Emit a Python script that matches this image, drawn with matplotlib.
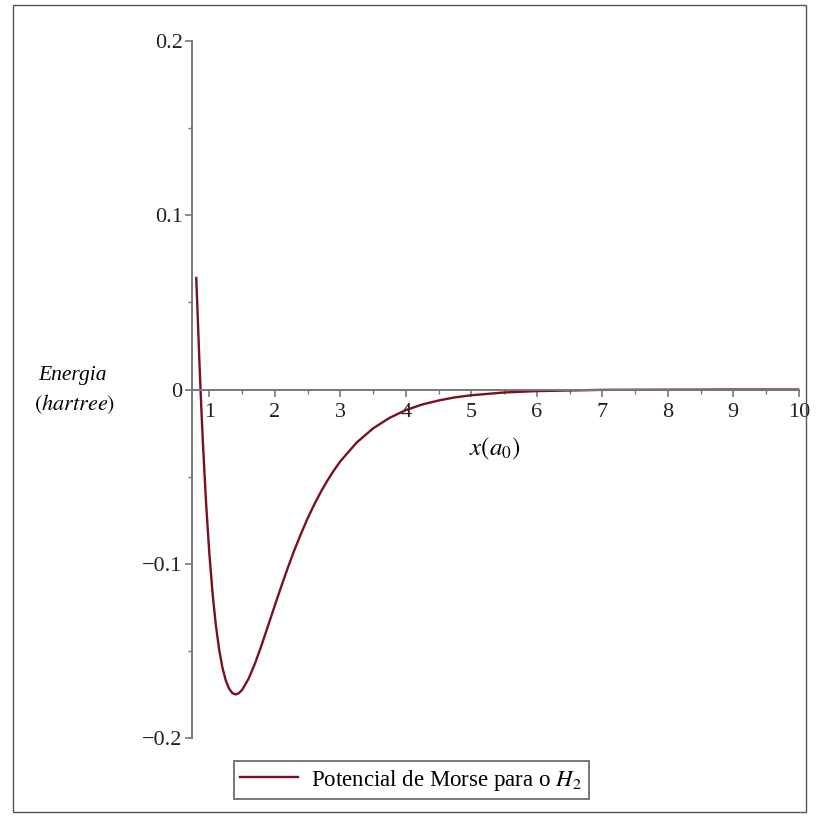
import matplotlib
matplotlib.use("Agg")
import matplotlib.pyplot as plt
from matplotlib.ticker import MultipleLocator
from matplotlib.patches import Rectangle

plt.rcParams['font.family'] = ['Liberation Serif', 'DejaVu Serif']
plt.rcParams['mathtext.fontset'] = 'stix'

# valores (x em a0, energia em hartree)
x = [0.80, 0.825, 0.85, 0.875, 0.90, 0.95, 1.00, 1.05, 1.10, 1.15, 1.20,
     1.25, 1.30, 1.35, 1.40, 1.45, 1.50, 1.60, 1.70, 1.80, 1.90, 2.00,
     2.10, 2.20, 2.30, 2.40, 2.50, 2.60, 2.70, 2.80, 2.90, 3.00, 3.25,
     3.50, 3.75, 4.00, 4.25, 4.50, 4.75, 5.00, 5.50, 6.00, 7.00, 8.00,
     9.00, 10.0]
energia = [0.0640, 0.0394, 0.0141, -0.0087, -0.0295, -0.0653, -0.0942,
           -0.1174, -0.1355, -0.1494, -0.1597, -0.1669, -0.1716, -0.1742,
           -0.1750, -0.1743, -0.1724, -0.1659, -0.1569, -0.1464, -0.1352,
           -0.1239, -0.1128, -0.1021, -0.0920, -0.0827, -0.0740, -0.0661,
           -0.0589, -0.0524, -0.0465, -0.0412, -0.0304, -0.0223, -0.0163,
           -0.0118, -0.0086, -0.0063, -0.0045, -0.0033, -0.0017, -0.0009,
           -0.0002, -0.0001, 0.0, 0.0]

fig = plt.figure(figsize=(8.16, 8.19), dpi=100)
ax = fig.add_axes([0.2357, 0.0989, 0.7432, 0.851])

ax.plot(x, energia, color='#7a0f22', lw=1.7, label='Potencial de Morse para o $H_2$')
ax.set_xlim(0.74, 10)
ax.set_ylim(-0.2, 0.2)

cinza = '#777777'
ax.spines['top'].set_visible(False)
ax.spines['right'].set_visible(False)
ax.spines['bottom'].set_position(('data', 0))
for s in ('left', 'bottom'):
    ax.spines[s].set_color(cinza)
    ax.spines[s].set_linewidth(1.4)

ax.xaxis.set_major_locator(MultipleLocator(1))
ax.xaxis.set_minor_locator(MultipleLocator(0.5))
ax.yaxis.set_minor_locator(MultipleLocator(0.05))
ax.set_yticks([-0.2, -0.1, 0, 0.1, 0.2])
ax.set_yticklabels(['\u22120.2', '\u22120.1', '0', '0.1', '0.2'])
ax.tick_params(which='major', direction='out', length=5, width=1.2, color=cinza,
               labelsize=16, labelcolor='#222222')
ax.tick_params(which='minor', direction='out', length=3, width=1.0, color=cinza)
ax.tick_params(axis='x', pad=5)
ax.tick_params(axis='y', pad=2)

ax.text(5.36, -0.034, r'$x\left(a_0\right)$', fontsize=18, ha='center', va='center')
fig.text(0.089, 0.542, 'Energia', fontsize=15.5, style='italic', ha='center', va='center')
fig.text(0.092, 0.507, r'$(\mathit{hartree})$', fontsize=16, ha='center', va='center')

leg = fig.legend(loc='center', bbox_to_anchor=(0.504, 0.0476), fontsize=16.5,
                 fancybox=False, edgecolor=cinza, framealpha=1, handlelength=2.5,
                 borderpad=0.3, handletextpad=0.6)
leg.get_frame().set_linewidth(1.4)

fig.patches.append(Rectangle((0.016, 0.008), 0.972, 0.986, transform=fig.transFigure,
                             fill=False, edgecolor='#555555', lw=1.0))

fig.savefig('out.png', dpi=100)
